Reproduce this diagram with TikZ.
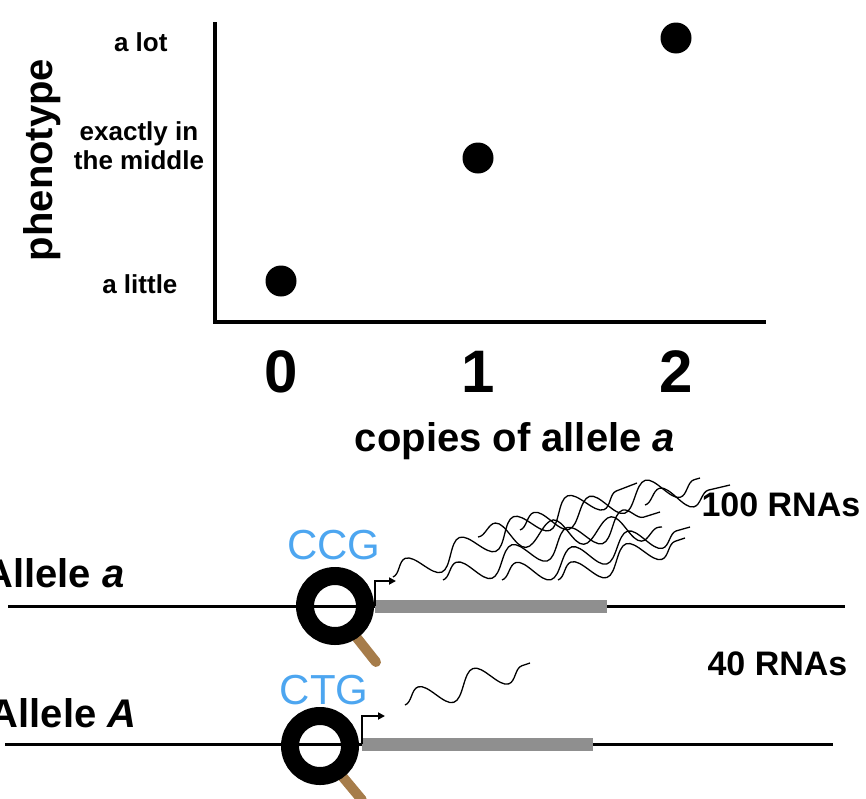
\documentclass[tikz,border=0pt]{standalone}
\usepackage{fontspec}
\setmainfont{Liberation Sans}
\usetikzlibrary{decorations.pathmorphing,arrows.meta}
\definecolor{cblue}{HTML}{4DA6F0}
\definecolor{brownh}{HTML}{A67C4A}
\definecolor{grayb}{HTML}{8F8F8F}
\begin{document}
\begin{tikzpicture}[x=1pt,y=-1pt,
  lbl/.style={font=\bfseries\fontsize{26}{29}\selectfont},
  dot/.style={circle,fill=black,inner sep=0,minimum size=31},
  big/.style={font=\bfseries\fontsize{40}{48}\selectfont},
  tick/.style={font=\bfseries\fontsize{60}{66}\selectfont},
  rna/.style={decorate,decoration={snake,segment length=58,amplitude=13},line width=1.3},
  ax/.style={line width=3.5}]
\useasboundingbox (0,0) rectangle (866,798);
% axes
\coordinate (o) at (215,322);
\coordinate (ytop) at (215,22);
\coordinate (xend) at (766,322);
\draw[ax] (ytop) -- (o) -- (xend);
\node[dot] (d0) at (281,281) {};
\node[dot] (d1) at (478,158) {};
\node[dot] (d2) at (676,38) {};
\node[lbl,anchor=east] (l1) at (171,42) {a lot};
\node[lbl,align=center] (l2) at (139,146) {exactly in\\the middle};
\node[lbl,anchor=east] (l3) at (181,284) {a little};
\node[big,rotate=90] (ph) at (42,160) {phenotype};
\node[tick] (t0) at (281,372) {0};
\node[tick] (t1) at (478,372) {1};
\node[tick] (t2) at (676,372) {2};
\node[big] (xl) at (515,441) {copies of allele \textit{a}};
% allele a
\node[big,anchor=east] (aa) at (128,573) {Allele \textit{a}};
\coordinate (a1) at (8,606); \coordinate (a2) at (845,606);
\draw[line width=3] (a1) -- (a2);
\coordinate (g1) at (375,606); \coordinate (g2) at (607,606);
\draw[grayb,line width=13] (g1) -- (g2);
\draw[brownh,line width=10,line cap=round] (357,638) -- (376,662);
\draw[line width=18] (335,606) circle (30);
\draw[line width=2.5,-{Triangle[length=7,width=7]}] (375,606) -- (375,581) -- (396,581);
\node[text=cblue,font=\fontsize{42}{46}\selectfont] (ccg) at (334,545) {CCG};
\node[font=\bfseries\fontsize{34}{38}\selectfont,anchor=west] (r100) at (698,505) {100 RNAs};
\draw[rna] (393,577) -- (637,483);
\draw[rna] (443,580) -- (660,512);
\draw[rna] (502,580) -- (690,527);
\draw[rna] (558,580) -- (685,538);
\draw[rna] (478,537) -- (662,527);
\draw[rna] (520,530) -- (700,478);
\draw[rna] (645,505) -- (730,485);
% allele A
\node[big,anchor=east] (aA) at (140,713) {Allele \textit{A}};
\coordinate (b1) at (5,744); \coordinate (b2) at (833,744);
\draw[line width=3] (b1) -- (b2);
\coordinate (h1) at (362,744); \coordinate (h2) at (593,744);
\draw[grayb,line width=13] (h1) -- (h2);
\draw[brownh,line width=10,line cap=round] (342,776) -- (362,800);
\draw[line width=18] (320,746) circle (30);
\draw[line width=2.5,-{Triangle[length=7,width=7]}] (362,744) -- (362,716) -- (385,716);
\node[text=cblue,font=\fontsize{42}{46}\selectfont] (ctg) at (324,690) {CTG};
\node[font=\bfseries\fontsize{34}{38}\selectfont,anchor=west] (r40) at (704,664) {40 RNAs};
\draw[rna] (405,705) -- (530,663);
\end{tikzpicture}
\end{document}
